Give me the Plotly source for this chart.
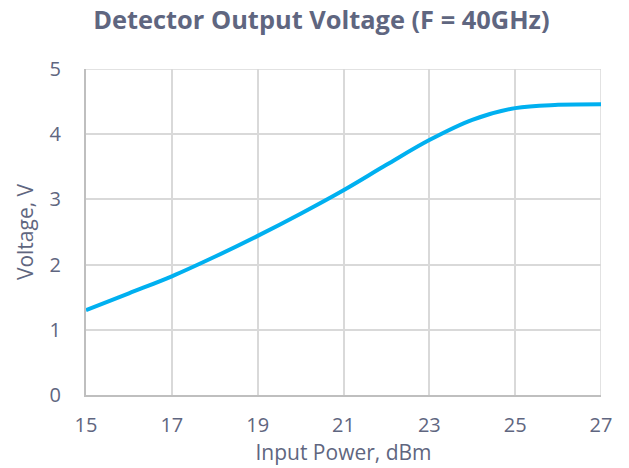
import plotly.graph_objects as go

power_dbm = [15, 16, 17, 18, 19, 20, 21, 22, 23, 24, 25, 26, 27]
voltage_v = [1.30, 1.56, 1.82, 2.12, 2.44, 2.78, 3.14, 3.53, 3.91, 4.22, 4.40, 4.45, 4.46]
x_ticks = [15, 17, 19, 21, 23, 25, 27]
y_ticks = [0, 1, 2, 3, 4, 5]

txt = "#5f6680"
fig = go.Figure()
fig.add_trace(go.Scatter(x=power_dbm, y=voltage_v, mode="lines",
                         line=dict(color="#00b0f0", width=4, shape="spline", smoothing=1.0),
                         showlegend=False))
fig.update_layout(
    width=629, height=468,
    margin=dict(l=86, r=28, t=69, b=73),
    paper_bgcolor="white", plot_bgcolor="white",
    font=dict(family="Open Sans", color=txt, size=20),
    title=dict(text="<b>Detector Output Voltage (F = 40GHz)</b>", x=0.511, xanchor="center",
               y=0.957, yanchor="middle", font=dict(size=25.4, color=txt)),
    xaxis=dict(range=[15, 27], tickvals=x_ticks, showgrid=True, gridcolor="#d9d9d9", gridwidth=1.5,
               showline=True, linecolor="#bfbfbf", linewidth=2, zeroline=False,
               ticks="", ticklabelstandoff=11, automargin=False,
               title=dict(text="Input Power, dBm", standoff=0, font=dict(size=21))),
    yaxis=dict(range=[0, 5], tickvals=y_ticks, showgrid=True, gridcolor="#d9d9d9", gridwidth=1.5,
               showline=True, linecolor="#bfbfbf", linewidth=2, zeroline=False,
               ticks="", ticklabelstandoff=19, automargin=False,
               title=dict(text="Voltage, V", standoff=10, font=dict(size=21))),
)
fig.add_shape(type="line", xref="x", yref="paper", x0=27, x1=27, y0=0, y1=1,
              line=dict(color="#d9d9d9", width=1.5), layer="below")
fig.add_shape(type="line", xref="paper", yref="y", x0=0, x1=1, y0=5, y1=5,
              line=dict(color="#d9d9d9", width=1.5), layer="below")
fig.write_html("out.html", config={"displayModeBar": False},
               post_script="document.body.style.margin='0';document.body.style.overflow='hidden';")
